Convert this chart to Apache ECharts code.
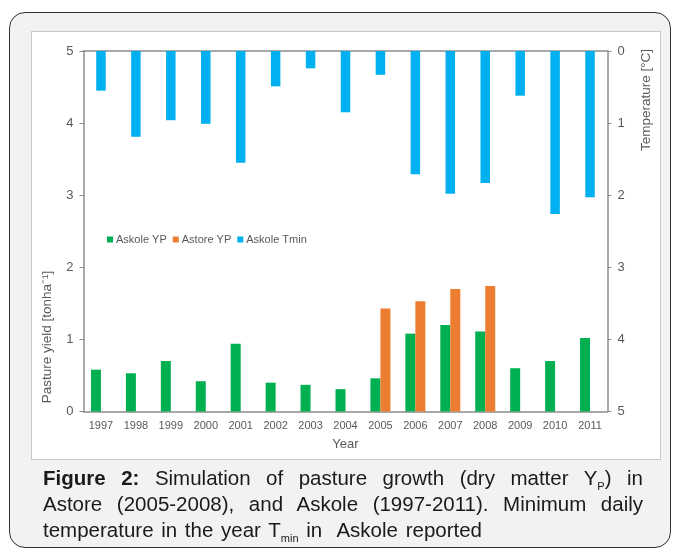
<!DOCTYPE html>
<html>
<head>
<meta charset="utf-8">
<script src="https://cdn.jsdelivr.net/npm/echarts@6/dist/echarts.min.js"></script>
<style>
html,body{margin:0;padding:0;width:674px;height:552px;background:#fff;overflow:hidden;font-family:"Liberation Sans",Arial,sans-serif;}
#frame{position:absolute;left:9px;top:12px;width:660px;height:534px;border:1.5px solid #333;border-radius:16px;background:#f1f2f3;}
#box{position:absolute;left:31px;top:31px;width:628px;height:427px;background:#fff;border:1px solid #c8c8c8;}
#chart{position:absolute;left:0;top:0;width:674px;height:552px;}
#cap{position:absolute;left:43px;top:465px;width:600px;font-size:20.5px;color:#1a1a1a;font-family:"Liberation Sans",Arial,sans-serif;}
#cap div{height:26px;line-height:26px;}
#cap .j{text-align:justify;text-align-last:justify;white-space:nowrap;}
#cap .l{text-align:left;white-space:nowrap;word-spacing:2px;}
#cap sub{font-size:11px;line-height:0;vertical-align:-5px;}
</style>
</head>
<body>
<div id="frame"></div>
<div id="box"></div>
<div id="chart"></div>
<div id="cap">
<div class="j"><b>Figure 2:</b> Simulation of pasture growth (dry matter Y<sub>P</sub>) in</div>
<div class="j">Astore (2005-2008), and Askole (1997-2011). Minimum daily</div>
<div class="l">temperature in the year T<sub>min</sub> in&nbsp; Askole reported</div>
</div>
<script>
const years = ['1997','1998','1999','2000','2001','2002','2003','2004','2005','2006','2007','2008','2009','2010','2011'];
const askoleYP = [0.58,0.53,0.70,0.42,0.94,0.40,0.37,0.31,0.46,1.08,1.20,1.11,0.60,0.70,1.02];
const astoreYP = [null,null,null,null,null,null,null,null,1.43,1.53,1.70,1.74,null,null,null];
const askoleTmin = [0.55,1.19,0.96,1.01,1.55,0.49,0.24,0.85,0.33,1.71,1.98,1.83,0.62,2.26,2.03];

const chart = echarts.init(document.getElementById('chart'), null, {renderer:'canvas'});
const axisColor = '#8c8c8c';
const labelColor = '#595959';
const font = '"Liberation Sans", Arial, sans-serif';
chart.setOption({
  animation:false,
  backgroundColor:'transparent',
  textStyle:{fontFamily:font},
  grid:{left:83.5, right:66.5, top:51, bottom:140.5, containLabel:false},
  legend:{
    left:102, top:229, icon:'rect', itemWidth:6, itemHeight:6, itemGap:6,
    textStyle:{fontSize:11, color:labelColor, fontFamily:font, padding:[0,0,0,-2]},
    data:['Askole YP','Astore YP','Askole Tmin']
  },
  xAxis:[
    {type:'category', data:years, position:'bottom',
     axisLine:{lineStyle:{color:axisColor, width:1.5}}, axisTick:{show:false},
     axisLabel:{fontSize:11, color:labelColor, margin:9},
     name:'Year', nameLocation:'middle', nameGap:26, nameTextStyle:{fontSize:13, color:labelColor}},
    {type:'category', data:years, position:'top',
     axisLine:{lineStyle:{color:axisColor, width:1.5}}, axisTick:{show:false}, axisLabel:{show:false}}
  ],
  yAxis:[
    {type:'value', min:0, max:5, interval:1, position:'left',
     axisLine:{show:true, lineStyle:{color:axisColor, width:1.5}},
     axisTick:{show:true, length:4, lineStyle:{color:axisColor}},
     axisLabel:{fontSize:13, color:labelColor, margin:10},
     splitLine:{show:false}},
    {type:'value', min:0, max:5, interval:1, position:'right', inverse:true,
     axisLine:{show:true, lineStyle:{color:axisColor, width:1.5}},
     axisTick:{show:true, length:4, lineStyle:{color:axisColor}},
     axisLabel:{fontSize:13, color:labelColor, margin:10},
     splitLine:{show:false}}
  ],
  graphic:[
    {type:'text', x:47, y:337, rotation:Math.PI/2,
     style:{text:'Pasture yield [tonha⁻¹]', fontSize:13.5, fill:labelColor, fontFamily:font, align:'center', verticalAlign:'middle'}},
    {type:'text', x:646, y:100, rotation:Math.PI/2,
     style:{text:'Temperature [°C]', fontSize:13.5, fill:labelColor, fontFamily:font, align:'center', verticalAlign:'middle'}}
  ],
  series:[
    {name:'Askole YP', type:'bar', xAxisIndex:0, yAxisIndex:0, data:askoleYP, barWidth:10, barGap:'0%',
     itemStyle:{color:'#00b050'}},
    {name:'Astore YP', type:'bar', xAxisIndex:0, yAxisIndex:0, data:astoreYP, barWidth:10, barGap:'0%',
     itemStyle:{color:'#ed7d31'}},
    {name:'Askole Tmin', type:'bar', xAxisIndex:1, yAxisIndex:1, data:askoleTmin, barWidth:9.5,
     itemStyle:{color:'#00b0f0'}}
  ]
});
</script>
</body>
</html>
